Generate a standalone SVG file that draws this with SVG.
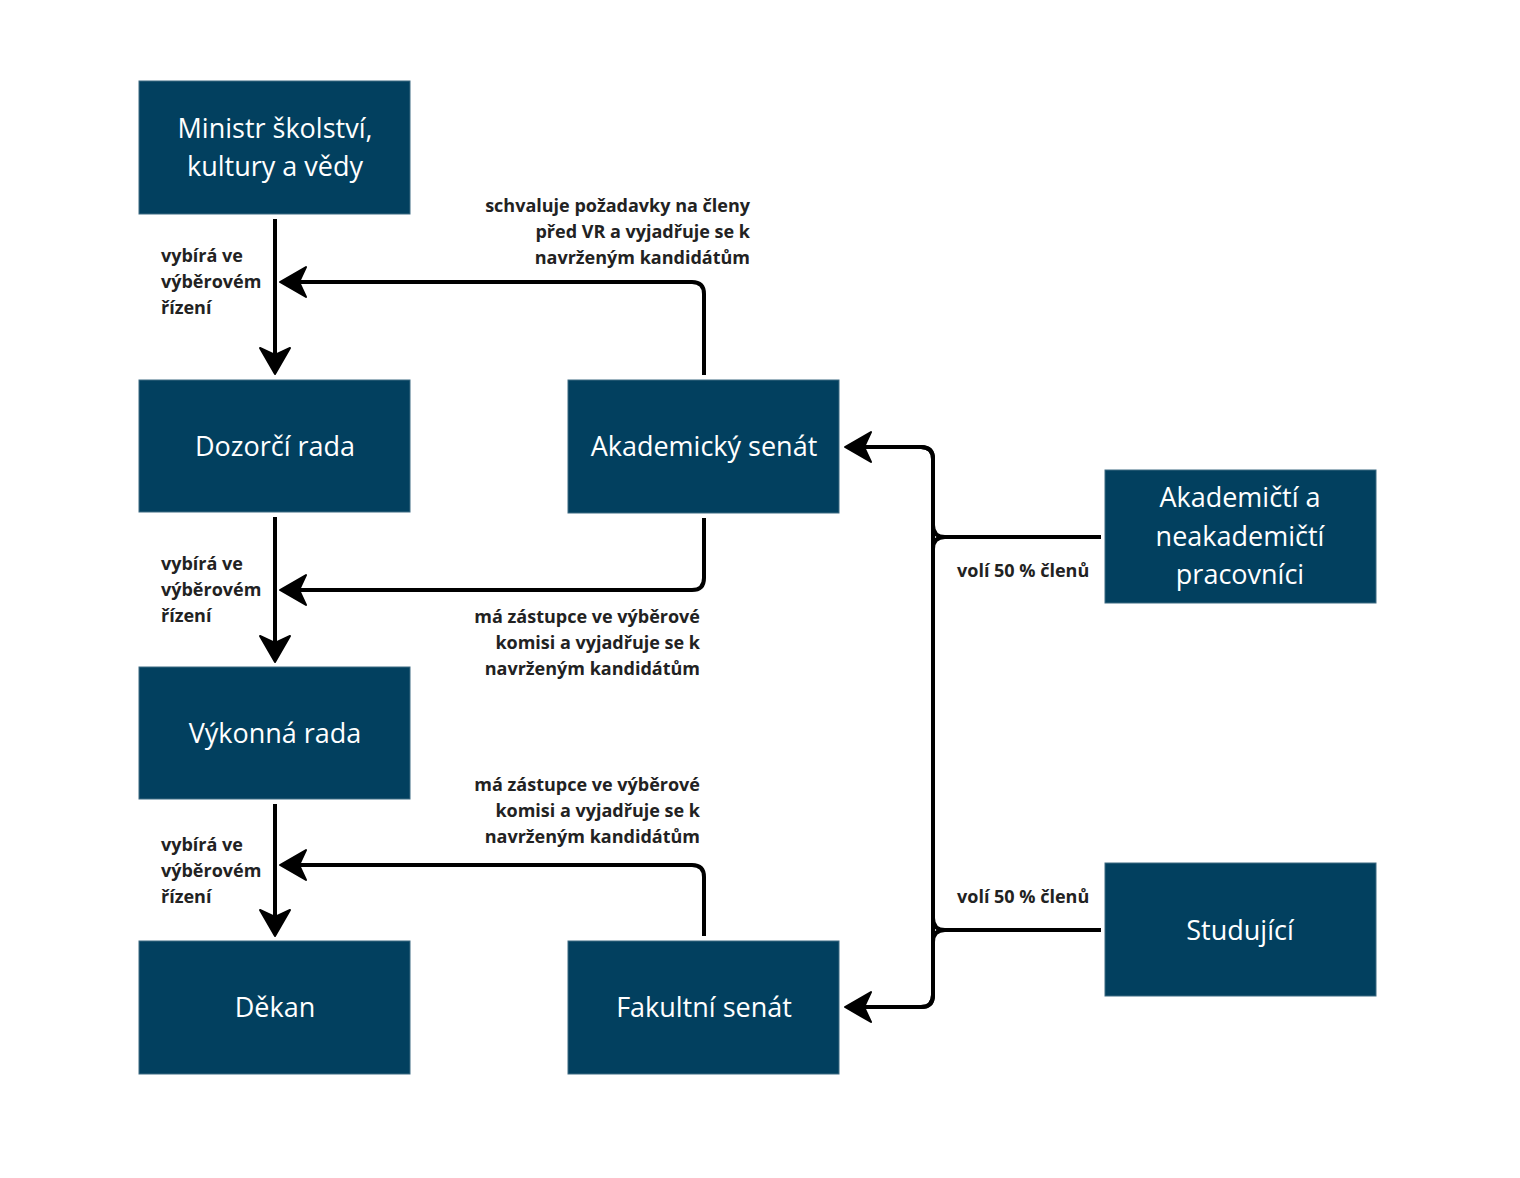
<svg xmlns="http://www.w3.org/2000/svg" width="1520" height="1178" viewBox="0 0 1520 1178">
<style>
.box{fill:#02405f;stroke:#3d6a82;stroke-width:1}
.nt{font-family:"Open Sans","Noto Sans",sans-serif;font-size:27px;fill:#ffffff;text-anchor:middle}
.lb{font-family:"Open Sans","Noto Sans",sans-serif;font-size:18px;font-weight:bold;fill:#222222}
.r{text-anchor:end}
.ln{fill:none;stroke:#000;stroke-width:4;stroke-linejoin:round}
.ah{fill:#000;stroke:#000;stroke-width:2;stroke-linejoin:round}
</style>
<defs>
<path id="aL" class="ah" d="M0,0 L26,-15 L19,0 L26,15 Z"/>
<path id="aD" class="ah" d="M0,0 L-15,-26 L0,-19 L15,-26 Z"/>
</defs>
<rect width="1520" height="1178" fill="#ffffff"/>
<g id="n-ministr"><rect class="box" x="139" y="81" width="271" height="133"/><text class="nt" x="275" y="138">Ministr školství,</text><text class="nt" x="275" y="176">kultury a vědy</text></g>
<g id="n-dozorci"><rect class="box" x="139" y="380" width="271" height="132"/><text class="nt" x="275" y="456">Dozorčí rada</text></g>
<g id="n-as"><rect class="box" x="568" y="380" width="271" height="133"/><text class="nt" x="704" y="456">Akademický senát</text></g>
<g id="n-vykonna"><rect class="box" x="139" y="667" width="271" height="132"/><text class="nt" x="275" y="743">Výkonná rada</text></g>
<g id="n-dekan"><rect class="box" x="139" y="941" width="271" height="133"/><text class="nt" x="275" y="1017">Děkan</text></g>
<g id="n-fs"><rect class="box" x="568" y="941" width="271" height="133"/><text class="nt" x="704" y="1017">Fakultní senát</text></g>
<g id="n-pracovnici"><rect class="box" x="1105" y="470" width="271" height="133"/><text class="nt" x="1240" y="507">Akademičtí a</text><text class="nt" x="1240" y="546">neakademičtí</text><text class="nt" x="1240" y="584">pracovníci</text></g>
<g id="n-studujici"><rect class="box" x="1105" y="863" width="271" height="133"/><text class="nt" x="1240" y="940">Studující</text></g>
<g id="connectors">
<path class="ln" d="M275,219 V360"/><use href="#aD" x="275" y="374"/>
<path class="ln" d="M275,517 V648"/><use href="#aD" x="275" y="662"/>
<path class="ln" d="M275,804 V922"/><use href="#aD" x="275" y="936"/>
<path class="ln" d="M704,375 V294 Q704,282 692,282 H296"/><use href="#aL" x="280" y="282"/>
<path class="ln" d="M704,518 V578 Q704,590 692,590 H296"/><use href="#aL" x="280" y="590"/>
<path class="ln" d="M704,936 V877 Q704,865 692,865 H296"/><use href="#aL" x="280" y="865"/>
<path class="ln" d="M1101,537 H945 Q933,537 933,525 V459 Q933,447 921,447 H860"/>
<path class="ln" d="M1101,537 H945 Q933,537 933,549 V995 Q933,1007 921,1007 H860"/>
<path class="ln" d="M1101,930 H945 Q933,930 933,918 V459 Q933,447 921,447 H860"/>
<path class="ln" d="M1101,930 H945 Q933,930 933,942 V995 Q933,1007 921,1007 H860"/>
<use href="#aL" x="845" y="447"/>
<use href="#aL" x="845" y="1007"/>
</g>
<g id="labels">
<text class="lb" x="161" y="262">vybírá ve</text><text class="lb" x="161" y="288">výběrovém</text><text class="lb" x="161" y="314">řízení</text>
<text class="lb" x="161" y="570">vybírá ve</text><text class="lb" x="161" y="596">výběrovém</text><text class="lb" x="161" y="622">řízení</text>
<text class="lb" x="161" y="851">vybírá ve</text><text class="lb" x="161" y="877">výběrovém</text><text class="lb" x="161" y="903">řízení</text>
<text class="lb r" x="750" y="212">schvaluje požadavky na členy</text><text class="lb r" x="750" y="238">před VR a vyjadřuje se k</text><text class="lb r" x="750" y="264">navrženým kandidátům</text>
<text class="lb r" x="700" y="623">má zástupce ve výběrové</text><text class="lb r" x="700" y="649">komisi a vyjadřuje se k</text><text class="lb r" x="700" y="675">navrženým kandidátům</text>
<text class="lb r" x="700" y="791">má zástupce ve výběrové</text><text class="lb r" x="700" y="817">komisi a vyjadřuje se k</text><text class="lb r" x="700" y="843">navrženým kandidátům</text>
<text class="lb" x="957" y="577">volí 50 % členů</text>
<text class="lb" x="957" y="903">volí 50 % členů</text>
</g>
</svg>
